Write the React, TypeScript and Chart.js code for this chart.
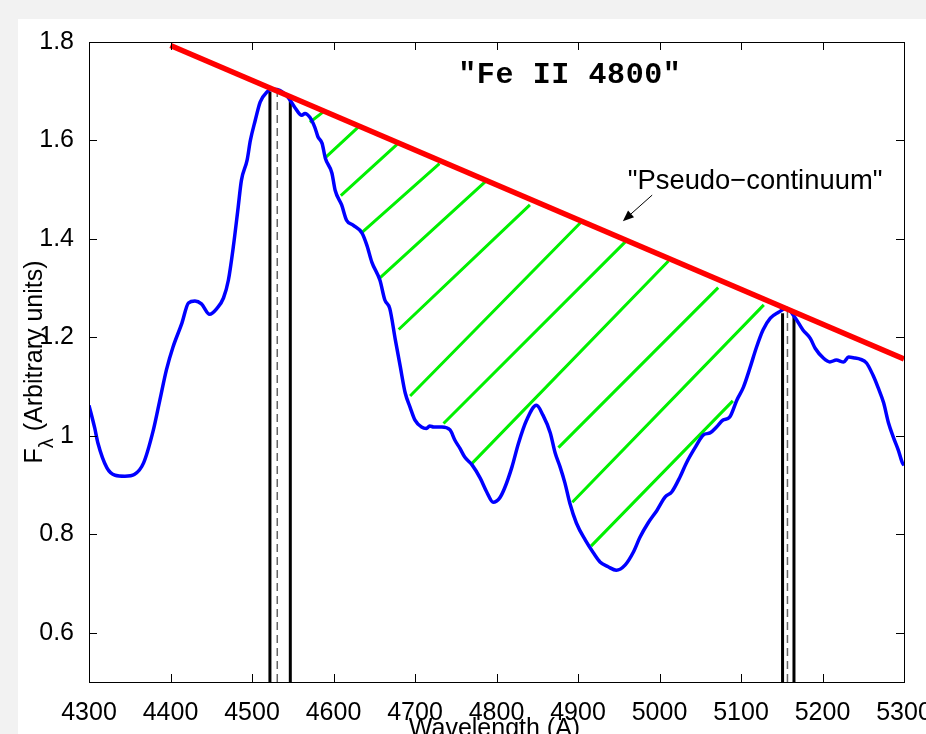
import React, { useEffect, useRef } from 'react';
import { Chart, registerables } from 'chart.js';

Chart.register(...registerables);

// ---- Data ----
const wavelength = [
  4300, 4307, 4311, 4322, 4332, 4344, 4356, 4367, 4379, 4387, 4395, 4403, 4414, 4422, 4430, 4438,
  4448, 4457, 4465, 4471, 4477, 4483, 4487, 4494, 4498, 4504, 4510, 4518, 4526, 4534, 4545, 4553,
  4561, 4565, 4571, 4577, 4581, 4586, 4590, 4598, 4602, 4610, 4616, 4624, 4635, 4641, 4647, 4657,
  4663, 4669, 4676, 4682, 4688, 4694, 4700, 4708, 4714, 4718, 4723, 4733, 4743, 4749, 4755, 4761,
  4770, 4780, 4788, 4796, 4804, 4810, 4819, 4827, 4837, 4849, 4857, 4866, 4872, 4878, 4884, 4890,
  4898, 4909, 4919, 4927, 4937, 4947, 4958, 4968, 4976, 4986, 4997, 5007, 5015, 5025, 5033, 5044,
  5054, 5062, 5070, 5078, 5086, 5095, 5103, 5111, 5119, 5127, 5136, 5146, 5156, 5166, 5176, 5185,
  5191, 5201, 5209, 5217, 5226, 5232, 5240, 5246, 5254, 5262, 5268, 5275, 5281, 5287, 5293, 5298,
  5300,
];
const flux = [
  1.062, 1.016, 0.985, 0.935, 0.920, 0.918, 0.922, 0.945, 1.012, 1.073, 1.134, 1.180, 1.229, 1.270, 1.274, 1.268,
  1.247, 1.259, 1.280, 1.316, 1.383, 1.464, 1.519, 1.560, 1.600, 1.641, 1.678, 1.698, 1.704, 1.702, 1.686, 1.666,
  1.651, 1.655, 1.647, 1.627, 1.607, 1.594, 1.564, 1.534, 1.499, 1.469, 1.438, 1.428, 1.412, 1.387, 1.353, 1.316,
  1.276, 1.259, 1.194, 1.140, 1.087, 1.058, 1.032, 1.018, 1.015, 1.020, 1.018, 1.018, 1.012, 0.991, 0.975, 0.957,
  0.941, 0.914, 0.886, 0.865, 0.874, 0.894, 0.937, 0.985, 1.032, 1.062, 1.042, 1.006, 0.965, 0.937, 0.904, 0.863,
  0.823, 0.788, 0.762, 0.744, 0.734, 0.727, 0.738, 0.764, 0.794, 0.823, 0.849, 0.876, 0.886, 0.916, 0.945, 0.977,
  1.002, 1.006, 1.018, 1.032, 1.038, 1.073, 1.099, 1.138, 1.180, 1.215, 1.239, 1.251, 1.259, 1.241, 1.215, 1.198,
  1.178, 1.158, 1.150, 1.154, 1.150, 1.160, 1.158, 1.156, 1.148, 1.123, 1.099, 1.067, 1.026, 0.997, 0.971, 0.945,
  0.940,
];

const continuumX = [4400, 5300];
const continuumY = [1.793, 1.156];

const hatchStartX = [4571, 4590, 4609, 4634, 4657, 4680, 4694, 4735, 4770, 4876, 4893, 4916];
const hatchStartY = [1.637, 1.565, 1.488, 1.412, 1.321, 1.216, 1.081, 1.025, 0.944, 0.976, 0.865, 0.776];
const hatchEndX = [4589, 4633, 4678, 4730, 4786, 4841, 4903, 4958, 5011, 5072, 5128, 5090];
const hatchEndY = [1.660, 1.631, 1.592, 1.553, 1.516, 1.469, 1.433, 1.394, 1.355, 1.301, 1.266, 1.071];

const solidMarkX = [4522, 4547, 5151, 5165];
const solidMarkTop = [1.699, 1.685, 1.249, 1.242];
const dashedMarkX = [4531, 5157];
const dashedMarkTop = [1.70, 1.26];

const xTicks = [4300, 4400, 4500, 4600, 4700, 4800, 4900, 5000, 5100, 5200, 5300];
const yTicks = [0.6, 0.8, 1, 1.2, 1.4, 1.6, 1.8];

const titleText = '"Fe II 4800"';
const titleAt = [4890, 1.716];
const annotationText = '"Pseudo\u2212continuum"';
const annotationAt = [4961, 1.502];
const arrowFrom = [4991, 1.489];
const arrowTo = [4955, 1.436];
const xTitle = 'Wavelength (A)';
const yTitleMain = 'F';
const yTitleSub = '\u03bb';
const yTitleRest = ' (Arbitrary units)';

const SANS = '"Liberation Sans", Arial, Helvetica, sans-serif';
const MONO = '"Liberation Mono", "Courier New", monospace';

function segments(xs0: number[], ys0: number[], xs1: number[], ys1: number[]) {
  const out: any[] = [];
  xs0.forEach((x0, i) => {
    out.push({ x: x0, y: ys0[i] });
    out.push({ x: xs1[i], y: ys1[i] });
    out.push({ x: xs1[i], y: null });
  });
  return out;
}

const decor = {
  id: 'decor',
  beforeDraw(chart: any) {
    const { ctx, width, height } = chart;
    ctx.save();
    ctx.fillStyle = '#f2f2f2';
    ctx.fillRect(0, 0, width, height);
    ctx.fillStyle = '#ffffff';
    ctx.fillRect(18, 19, width - 18, height - 19);
    ctx.restore();
  },
  afterDraw(chart: any) {
    const { ctx, chartArea: a, scales } = chart;
    const xs = scales.x;
    const ys = scales.y;
    ctx.save();
    // axes box
    ctx.strokeStyle = '#000';
    ctx.lineWidth = 1;
    ctx.strokeRect(Math.round(a.left) + 0.5, Math.round(a.top) + 0.5, Math.round(a.right - a.left), Math.round(a.bottom - a.top));
    // inward ticks
    const tl = 8;
    ctx.beginPath();
    xTicks.forEach((v) => {
      const px = Math.round(xs.getPixelForValue(v)) + 0.5;
      ctx.moveTo(px, a.bottom);
      ctx.lineTo(px, a.bottom - tl);
      ctx.moveTo(px, a.top);
      ctx.lineTo(px, a.top + tl);
    });
    yTicks.forEach((v) => {
      const py = Math.round(ys.getPixelForValue(v)) + 0.5;
      ctx.moveTo(a.left, py);
      ctx.lineTo(a.left + tl, py);
      ctx.moveTo(a.right, py);
      ctx.lineTo(a.right - tl, py);
    });
    ctx.stroke();

    // title inside plot
    ctx.fillStyle = '#000';
    ctx.font = `bold 30px ${MONO}`;
    (ctx as any).letterSpacing = '0.6px';
    ctx.textAlign = 'center';
    ctx.textBaseline = 'alphabetic';
    ctx.fillText(titleText, xs.getPixelForValue(titleAt[0]), ys.getPixelForValue(titleAt[1]));
    (ctx as any).letterSpacing = '0px';

    // annotation
    ctx.font = `27.4px ${SANS}`;
    ctx.textAlign = 'left';
    ctx.fillText(annotationText, xs.getPixelForValue(annotationAt[0]), ys.getPixelForValue(annotationAt[1]));

    // arrow
    const ax0 = xs.getPixelForValue(arrowFrom[0]);
    const ay0 = ys.getPixelForValue(arrowFrom[1]);
    const ax1 = xs.getPixelForValue(arrowTo[0]);
    const ay1 = ys.getPixelForValue(arrowTo[1]);
    const ang = Math.atan2(ay1 - ay0, ax1 - ax0);
    const hl = 11, hw = 4.5;
    ctx.beginPath();
    ctx.moveTo(ax0, ay0);
    ctx.lineTo(ax1 - Math.cos(ang) * hl * 0.8, ay1 - Math.sin(ang) * hl * 0.8);
    ctx.lineWidth = 1;
    ctx.stroke();
    ctx.beginPath();
    ctx.moveTo(ax1, ay1);
    ctx.lineTo(ax1 - Math.cos(ang) * hl - Math.sin(ang) * hw, ay1 - Math.sin(ang) * hl + Math.cos(ang) * hw);
    ctx.lineTo(ax1 - Math.cos(ang) * hl + Math.sin(ang) * hw, ay1 - Math.sin(ang) * hl - Math.cos(ang) * hw);
    ctx.closePath();
    ctx.fill();

    // x axis title
    ctx.font = `25px ${SANS}`;
    ctx.textAlign = 'center';
    ctx.fillText(xTitle, (a.left + a.right) / 2 - 2, a.bottom + 54);

    // y axis title
    ctx.translate(42, (a.top + a.bottom) / 2);
    ctx.rotate(-Math.PI / 2);
    ctx.textAlign = 'left';
    const mainFont = `25px ${SANS}`;
    const subFont = `20px ${SANS}`;
    ctx.font = mainFont;
    const wF = ctx.measureText(yTitleMain).width;
    const wR = ctx.measureText(yTitleRest).width;
    ctx.font = subFont;
    const wL = ctx.measureText(yTitleSub).width;
    let cx = -(wF + wL + wR) / 2;
    ctx.font = mainFont;
    ctx.fillText(yTitleMain, cx, 0);
    cx += wF;
    ctx.font = subFont;
    ctx.fillText(yTitleSub, cx, 11);
    cx += wL;
    ctx.font = mainFont;
    ctx.fillText(yTitleRest, cx, 0);
    ctx.restore();
  },
};

export default function App() {
  const ref = useRef<HTMLCanvasElement | null>(null);
  useEffect(() => {
    if (!ref.current) return;
    const verticalSolid: any[] = [];
    solidMarkX.forEach((x, i) => {
      verticalSolid.push({ x, y: 0.5 }, { x, y: solidMarkTop[i] }, { x, y: null });
    });
    const verticalDashed: any[] = [];
    dashedMarkX.forEach((x, i) => {
      verticalDashed.push({ x, y: 0.5 }, { x, y: dashedMarkTop[i] }, { x, y: null });
    });
    const chart = new Chart(ref.current, {
      type: 'line',
      data: {
        datasets: [
          {
            label: 'Pseudo-continuum',
            data: continuumX.map((x, i) => ({ x, y: continuumY[i] })),
            borderColor: '#ff0000',
            borderWidth: 5.5,
            pointRadius: 0,
            tension: 0,
          },
          {
            label: 'Spectrum',
            data: wavelength.map((x, i) => ({ x, y: flux[i] })),
            borderColor: '#0000ff',
            borderWidth: 3.5,
            pointRadius: 0,
            cubicInterpolationMode: 'monotone',
            borderJoinStyle: 'round',
          },
          {
            label: 'Limits',
            data: verticalSolid,
            borderColor: '#000000',
            borderWidth: 3,
            pointRadius: 0,
            spanGaps: false,
          },
          {
            label: 'Centres',
            data: verticalDashed,
            borderColor: '#666666',
            borderWidth: 1.5,
            borderDash: [8, 5],
            pointRadius: 0,
            spanGaps: false,
          },
          {
            label: 'Hatch',
            data: segments(hatchStartX, hatchStartY, hatchEndX, hatchEndY),
            borderColor: '#00f000',
            borderWidth: 3,
            pointRadius: 0,
            spanGaps: false,
          },
        ] as any,
      },
      options: {
        responsive: false,
        animation: false,
        devicePixelRatio: 1,
        layout: { padding: { left: 0, top: 42, right: 22, bottom: 0 } },
        plugins: {
          legend: { display: false },
          tooltip: { enabled: false },
          title: { display: false },
        },
        scales: {
          x: {
            type: 'linear',
            min: 4300,
            max: 5300,
            grid: { display: false },
            border: { display: false },
            ticks: {
              color: '#000',
              font: { family: SANS, size: 25 },
              padding: 8,
              maxRotation: 0,
              autoSkip: false,
              callback: (v: any) => String(v),
            },
            afterBuildTicks: (s: any) => {
              s.ticks = xTicks.map((v) => ({ value: v }));
            },
            afterFit: (s: any) => {
              s.height = 52;
              s.paddingLeft = 0;
              s.paddingRight = 0;
            },
          },
          y: {
            type: 'linear',
            min: 0.5,
            max: 1.8,
            grid: { display: false },
            border: { display: false },
            ticks: {
              color: '#000',
              font: { family: SANS, size: 25 },
              padding: 7,
              autoSkip: false,
              callback: (v: any) => String(v),
            },
            afterBuildTicks: (s: any) => {
              s.ticks = yTicks.map((v) => ({ value: v }));
            },
            afterFit: (s: any) => {
              s.width = 89;
              s.paddingTop = 0;
              s.paddingBottom = 0;
            },
          },
        },
      } as any,
      plugins: [decor],
    });
    return () => chart.destroy();
  }, []);
  return (
    <div style={{ position: 'fixed', left: 0, top: 0, width: 926, height: 734, background: '#f2f2f2' }}>
      <canvas ref={ref} width={926} height={734} style={{ display: 'block' }} />
    </div>
  );
}
